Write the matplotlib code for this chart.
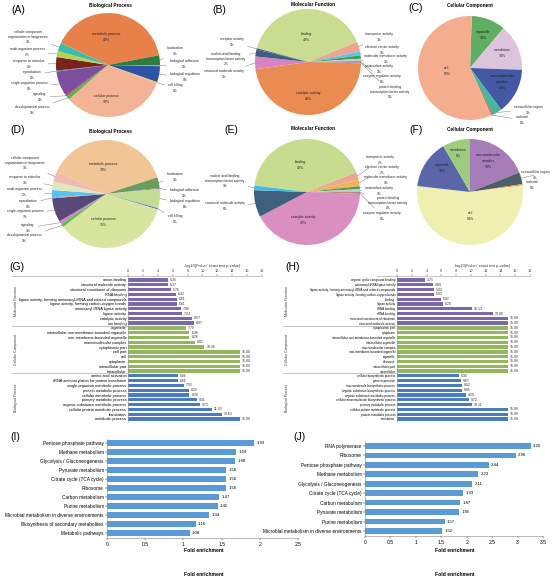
import numpy as np
import matplotlib.pyplot as plt
from matplotlib.transforms import blended_transform_factory

plt.rcParams['font.family'] = ['Liberation Sans', 'DejaVu Sans']

# ---- pie data (shares in %) ----
bp_names_a = ['metabolic process', 'localization', 'biological adhesion', 'biological regulation',
              'cell killing', 'cellular process', 'developmental process', 'signaling',
              'single-organism process', 'reproduction', 'response to stimulus',
              'multi-organism process', 'cellular component\norganization or biogenesis']
bp_share_a = [40.2, 3.1, 0.3, 5.0, 0.3, 33.0, 1.2, 0.4, 7.9, 0.3, 4.2, 1.9, 2.6]

mf_names_b = ['binding', 'transporter activity', 'electron carrier activity',
              'molecular transducer activity', 'antioxidant activity', 'enzyme regulator activity',
              'protein binding\ntranscription factor activity', 'catalytic activity',
              'structural molecule activity', 'nucleic acid binding\ntranscription factor activity',
              'receptor activity']
mf_share_b = [40.0, 3.0, 1.2, 1.0, 0.8, 0.3, 0.3, 47.8, 3.9, 2.1, 0.4]

cc_names_c = ['organelle', 'membrane', 'macromolecular\ncomplex', 'extracellular region',
              'nucleoid', 'cell']
cc_share_c = [10.4, 14.2, 14.0, 3.0, 0.4, 56.4]

bp_names_d = ['metabolic process', 'localization', 'biological adhesion', 'biological regulation',
              'cell killing', 'cellular process', 'developmental process', 'signaling',
              'single-organism process', 'reproduction', 'multi-organism process',
              'response to stimulus', 'cellular component\norganization or biogenesis']
bp_share_d = [38.6, 3.2, 0.3, 5.8, 0.4, 35.2, 1.1, 0.9, 7.2, 0.3, 2.2, 2.6, 2.9]

mf_names_e = ['binding', 'transporter activity', 'electron carrier activity',
              'molecular transducer activity', 'antioxidant activity',
              'protein binding\ntranscription factor activity', 'enzyme regulator activity',
              'catalytic activity', 'structural molecule activity',
              'nucleic acid binding\ntranscription factor activity']
mf_share_e = [42.0, 2.3, 2.0, 0.9, 0.8, 0.3, 0.3, 41.8, 8.2, 1.4]

cc_names_f = ['macromolecular\ncomplex', 'extracellular region', 'nucleoid', 'cell',
              'organelle', 'membrane']
cc_share_f = [19.0, 3.6, 0.4, 53.8, 14.8, 8.4]

# ---- GO enrichment (G, H) ----
go_terms_g = ['anion binding', 'structural molecule activity', 'structural constituent of ribosome',
              'RNA binding', 'ligase activity, forming aminoacyl-tRNA and related compounds',
              'ligase activity, forming carbon-oxygen bonds', 'aminoacyl-tRNA ligase activity',
              'ligase activity', 'catalytic activity', 'ion binding',
              'organelle', 'intracellular non-membrane-bounded organelle',
              'non-membrane-bounded organelle', 'macromolecular complex', 'cytoplasmic part',
              'cell part', 'cell', 'cytoplasm', 'intracellular part', 'intracellular',
              'amino acid activation', 'tRNA aminoacylation for protein translation',
              'single-organism metabolic process', 'protein metabolic process',
              'cellular metabolic process', 'primary metabolic process',
              'organic substance metabolic process', 'cellular protein metabolic process',
              'translation', 'metabolic process']
go_vals_g = [5.35, 5.37, 5.76, 6.42, 6.61, 6.61, 7.06, 7.24, 8.57, 8.87,
             7.79, 8.26, 8.26, 9.02, 10.26, 15.00, 15.00, 15.00, 15.00, 15.00,
             6.66, 6.66, 7.55, 8.25, 8.26, 9.31, 9.73, 11.33, 12.62, 15.00]

go_terms_h = ['organic cyclic compound binding', 'aminoacyl-tRNA ligase activity',
              'ligase activity, forming aminoacyl-tRNA and related compounds',
              'ligase activity, forming carbon-oxygen bonds', 'binding', 'ligase activity',
              'tRNA binding', 'rRNA binding', 'structural constituent of ribosome',
              'structural molecule activity',
              'cytoplasmic part', 'cytoplasm', 'intracellular non-membrane-bounded organelle',
              'intracellular organelle', 'macromolecular complex', 'non-membrane-bounded organelle',
              'organelle', 'ribosome', 'intracellular part', 'intracellular',
              'cellular biosynthetic process', 'gene expression', 'macromolecule biosynthetic process',
              'organic substance biosynthetic process', 'organic substance metabolic process',
              'cellular macromolecule biosynthetic process', 'primary metabolic process',
              'cellular protein metabolic process', 'protein metabolic process', 'translation']
go_vals_h = [3.75, 4.89, 5.03, 5.03, 6.02, 6.29, 10.13, 13.00, 15.00, 15.00,
             15.00, 15.00, 15.00, 15.00, 15.00, 15.00, 15.00, 15.00, 15.00, 15.00,
             8.36, 8.67, 8.82, 8.85, 9.29, 9.72, 10.11, 15.00, 15.00, 15.00]

go_groups = ['Molecular Function', 'Cellular Component', 'Biological Process']
go_group_size = [10, 10, 10]

# ---- KEGG enrichment (I, J) ----
kegg_i = ['Pentose phosphate pathway', 'Methane metabolism', 'Glycolysis / Gluconeogenesis',
          'Pyruvate metabolism', 'Citrate cycle (TCA cycle)', 'Ribosome', 'Carbon metabolism',
          'Purine metabolism', 'Microbial metabolism in diverse environments',
          'Biosynthesis of secondary metabolites', 'Metabolic pathways']
fold_i = [1.93, 1.69, 1.68, 1.56, 1.56, 1.56, 1.47, 1.45, 1.34, 1.16, 1.08]

kegg_j = ['RNA polymerase', 'Ribosome', 'Pentose phosphate pathway', 'Methane metabolism',
          'Glycolysis / Gluconeogenesis', 'Citrate cycle (TCA cycle)', 'Carbon metabolism',
          'Pyruvate metabolism', 'Purine metabolism', 'Microbial metabolism in diverse environments']
fold_j = [3.26, 2.96, 2.44, 2.23, 2.11, 1.93, 1.87, 1.85, 1.57, 1.52]

W, H = 558, 576
fig = plt.figure(figsize=(W / 100, H / 100), dpi=100)


def box(x, y, w, h):
    return [x / W, 1 - (y + h) / H, w / W, h / H]


def fpos(x, y):
    return (x / W, 1 - y / H)


def draw_pie(cx, cy, r, names, shares, colors, start, spots, inner):
    ax = fig.add_axes(box(cx - r, cy - r, 2 * r, 2 * r))
    wedges, _ = ax.pie(shares, colors=colors, startangle=start, counterclock=False,
                       wedgeprops=dict(linewidth=0))
    ax.set_xlim(-1, 1)
    ax.set_ylim(-1, 1)
    ax.set_aspect('equal')
    ax.axis('off')
    for w, name, share, (lx, ly) in zip(wedges, names, shares, spots):
        txt = f"{name}\n{share:.0f}%"
        if name in inner:
            fig.text(*fpos(lx, ly), txt, ha='center', va='center', fontsize=2.5,
                     linespacing=1.6, color='#222')
        else:
            mid = np.deg2rad((w.theta1 + w.theta2) / 2)
            ax.annotate(txt, xy=(np.cos(mid), np.sin(mid)), xycoords='data',
                        xytext=fpos(lx, ly), textcoords='figure fraction',
                        ha='center', va='center', fontsize=2.4, linespacing=1.4, color='#222',
                        arrowprops=dict(arrowstyle='-', lw=0.3, color='#666',
                                        shrinkA=0.5, shrinkB=0))


def tag(x, y, s):
    fig.text(*fpos(x, y), s, fontsize=7.5, ha='center', va='center')


def title(x, y, s):
    fig.text(*fpos(x, y), s, fontsize=3.4, fontweight='bold', ha='center', va='center')


# (A)
draw_pie(108, 65, 52, bp_names_a, bp_share_a,
         ['#e8804a', '#2f7d3e', '#9c9c9c', '#2c54a5', '#e8c840', '#f3b496', '#5db34e',
          '#c53a2c', '#7c4e9e', '#3a8fc0', '#7a231c', '#b6d052', '#3dbcaa'], 155,
         [(106, 37), (175, 51), (184, 64), (185, 77), (175, 88), (106, 99), (32, 110),
          (40, 97), (29, 86), (32, 75), (29, 64), (27, 52), (28, 37)],
         ['metabolic process', 'cellular process'])
tag(18, 10, '(A)')
title(110, 5, 'Biological Process')

# (B)
draw_pie(308, 62, 53, mf_names_b, mf_share_b,
         ['#c9dc90', '#eda38f', '#5bc5e3', '#3f9f4f', '#d4bcd6', '#d94a3d', '#8c8c8c',
          '#ea8b52', '#d884c2', '#3f5e7c', '#35569e'], 165,
         [(306, 37), (379, 37), (382, 50), (386, 59), (379, 69), (382, 79), (390, 92),
          (308, 96), (224, 74), (226, 59), (232, 42)],
         ['binding', 'catalytic activity'])
tag(219, 10, '(B)')
title(313, 4, 'Molecular Function')

# (C)
draw_pie(470, 68, 52, cc_names_c, cc_share_c,
         ['#5fae62', '#dcc4dc', '#4458a5', '#47b79b', '#e04a3a', '#f4ad8f'], 88,
         [(483, 35), (502, 53), (502, 82), (528, 110), (522, 120), (447, 71)],
         ['organelle', 'membrane', 'macromolecular\ncomplex', 'cell'])
tag(416, 8, '(C)')
title(470, 6, 'Cellular Component')

# (D)
draw_pie(106, 194, 54, bp_names_d, bp_share_d,
         ['#f2c597', '#6a9d5d', '#8e7bb0', '#c4dc92', '#4b7cc0', '#d7e59f', '#68bb4f',
          '#c985cf', '#584878', '#e58e5a', '#5cc1ec', '#dfe8bc', '#f2b9b2'], 156,
         [(103, 167), (175, 177), (184, 193), (185, 204), (175, 219), (103, 222), (24, 238),
          (28, 228), (25, 214), (28, 204), (24, 192), (25, 180), (25, 163)],
         ['metabolic process', 'cellular process'])
tag(18, 130, '(D)')
title(110, 131, 'Biological Process')

# (E)
draw_pie(307, 192, 53, mf_names_e, mf_share_e,
         ['#c7dc8e', '#eea690', '#f2b25c', '#46a24c', '#c8c8c8', '#7f7f7f', '#d2574a',
          '#d98fbf', '#3e5f7e', '#4ab8e6'], 173,
         [(300, 165), (380, 160), (382, 170), (386, 180), (379, 191), (388, 203), (382, 216),
          (303, 220), (225, 206), (225, 181)],
         ['binding', 'catalytic activity'])
tag(231, 130, '(E)')
title(313, 129, 'Molecular Function')

# (F)
draw_pie(470, 192, 53, cc_names_f, cc_share_f,
         ['#a67db8', '#4b5e6a', '#f08a3c', '#efefb2', '#5a66a8', '#9fcc7c'], 90,
         [(488, 161), (535, 175), (532, 185), (470, 216), (442, 168), (458, 153)],
         ['macromolecular\ncomplex', 'cell', 'organelle', 'membrane'])
tag(416, 130, '(F)')
title(470, 129, 'Cellular Component')

# ---- GO bar panels ----
group_colors = ['#7b67ad', '#93b75a', '#4a7dbf']


def draw_go(x0, x1, terms, vals, group_x, line_x, title_x, tag_x, fs):
    ax = fig.add_axes(box(x0, 276, x1 - x0, 146))
    cols = []
    for c, n in zip(group_colors, go_group_size):
        cols += [c] * n
    ypos = np.arange(len(terms))
    ax.barh(ypos, vals, height=0.68, color=cols)
    ax.set_ylim(len(terms) - 0.37, -0.83)
    ax.set_xlim(0, 18)
    ax.xaxis.tick_top()
    ax.set_xticks(np.arange(0, 19, 2))
    ax.tick_params(axis='x', labelsize=2.8, length=1.2, width=0.3, pad=0.8, colors='#444')
    ax.set_yticks(ypos, terms)
    ax.tick_params(axis='y', labelsize=fs, length=0, pad=1.2)
    for s in ['right', 'bottom']:
        ax.spines[s].set_visible(False)
    for s in ['top', 'left']:
        ax.spines[s].set_linewidth(0.4)
        ax.spines[s].set_color('#999')
    for i, v in enumerate(vals):
        ax.text(v + 0.25, i, f'{v:.2f}', va='center', fontsize=2.5, color='#333')
    tr = blended_transform_factory(fig.transFigure, ax.transData)
    bounds = np.cumsum(go_group_size)[:-1] - 0.5
    for b in bounds:
        ax.plot([group_x / W, x0 / W], [b, b], transform=tr, color='#999', lw=0.4,
                clip_on=False)
    tra = blended_transform_factory(fig.transFigure, ax.transAxes)
    ax.plot([line_x / W, x0 / W], [1, 1], transform=tra, color='#999', lw=0.4, clip_on=False)
    start = 0
    for g, n in zip(go_groups, go_group_size):
        mid = start + (n - 1) / 2
        ax.text(group_x / W + 0.004, mid, g, transform=tr, rotation=90, ha='left',
                va='center', fontsize=2.5, color='#333')
        start += n
    fig.text(*fpos(title_x, 266), "-log10(Fisher' exact test p-value)", fontsize=2.8,
             ha='center', va='center', color='#333')
    tag(tag_x, 267, '(G)' if tag_x < 200 else '(H)')


draw_go(128, 262, go_terms_g, go_vals_g, 12, 12, 212, 17, 2.75)
draw_go(397, 530, go_terms_h, go_vals_h, 283, 377, 482, 293, 2.2)

# ---- KEGG bar panels ----
bar_blue = '#5b9bd5'


def draw_kegg(x0, x1, top, bottom, terms, vals, xmax, tag_s, tag_xy, label_x):
    n = len(terms)
    step = (bottom - top) / (n - 1)
    ax = fig.add_axes(box(x0, top - step / 2, x1 - x0, bottom - top + step))
    ypos = np.arange(n)
    ax.barh(ypos, vals, height=0.6, color=bar_blue)
    ax.set_ylim(n - 0.5, -0.5)
    ax.set_xlim(0, xmax)
    ticks = np.arange(0, xmax + 0.01, 0.5)
    ax.set_xticks(ticks, [f'{t:g}' for t in ticks])
    ax.tick_params(axis='x', labelsize=3.6, length=1.5, width=0.3, pad=1.5)
    ax.set_yticks(ypos, terms)
    ax.tick_params(axis='y', labelsize=3.4, length=1.2, width=0.3, pad=1.2)
    for s in ['right', 'top']:
        ax.spines[s].set_visible(False)
    for s in ['left', 'bottom']:
        ax.spines[s].set_linewidth(0.4)
        ax.spines[s].set_color('#888')
    for i, v in enumerate(vals):
        ax.text(v + xmax * 0.012, i, f'{v:.2f}', va='center', fontsize=3.1)
    for y in (550, 574):
        fig.text(*fpos(label_x, y), 'Fold enrichment', fontsize=3.6,
                 fontweight='bold', ha='center', va='center')
    tag(tag_xy[0], tag_xy[1], tag_s)


draw_kegg(107, 298, 443, 533, kegg_i, fold_i, 2.5, '(I)', (15, 437), 204)
draw_kegg(365, 543, 446, 531, kegg_j, fold_j, 3.5, '(J)', (300, 437), 455)

fig.savefig('out.png', dpi=100)
